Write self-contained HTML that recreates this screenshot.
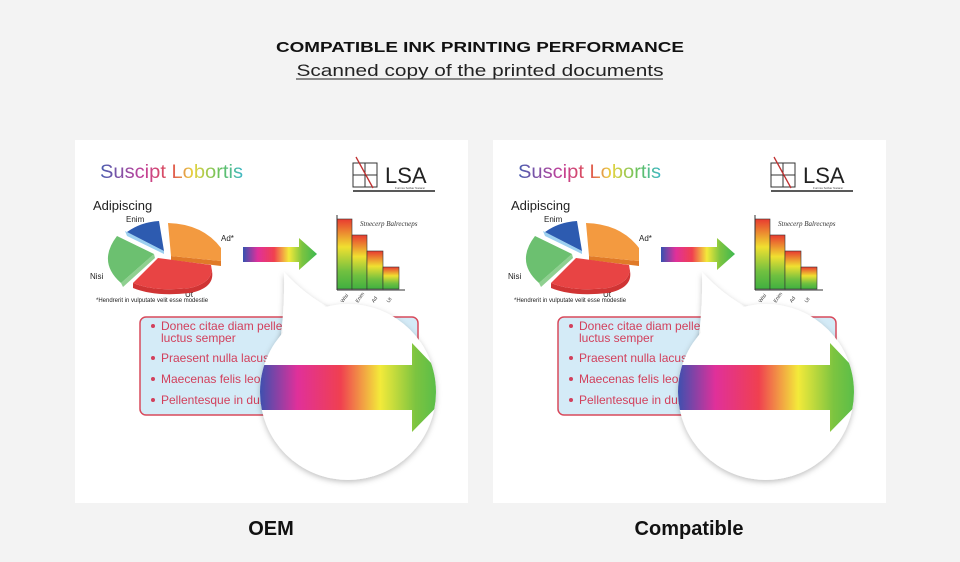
<!DOCTYPE html>
<html><head><meta charset="utf-8"><style>
html,body{margin:0;padding:0;background:#f3f3f3;}
svg{display:block;}
text{font-family:"Liberation Sans",sans-serif;}
</style></head><body>
<svg width="960" height="562" viewBox="0 0 960 562" xmlns="http://www.w3.org/2000/svg">
<defs>
<linearGradient id="title" x1="0" x2="1"><stop offset="0" stop-color="#4a5fb0"/><stop offset="0.3" stop-color="#c2409a"/><stop offset="0.5" stop-color="#e05050"/><stop offset="0.65" stop-color="#e8d440"/><stop offset="0.85" stop-color="#60c060"/><stop offset="1" stop-color="#40b8c8"/></linearGradient>
<linearGradient id="rb" x1="0" x2="1"><stop offset="0" stop-color="#3552b0"/><stop offset="0.2" stop-color="#e0309a"/><stop offset="0.42" stop-color="#f04050"/><stop offset="0.62" stop-color="#f3ea3a"/><stop offset="0.8" stop-color="#7cc440"/><stop offset="1" stop-color="#3cb850"/></linearGradient>
<linearGradient id="bar" x1="0" y1="0" x2="0" y2="1"><stop offset="0" stop-color="#e83a30"/><stop offset="0.4" stop-color="#f0e030"/><stop offset="0.75" stop-color="#70c040"/><stop offset="1" stop-color="#40b040"/></linearGradient>
<clipPath id="circ"><circle cx="273" cy="252" r="88"/></clipPath>
<filter id="sh" x="-20%" y="-20%" width="140%" height="140%"><feDropShadow dx="0" dy="2" stdDeviation="3" flood-color="#000" flood-opacity="0.25"/></filter>
<g id="panel">
<rect x="0" y="0" width="393" height="363" fill="#fff"/>
<text x="25" y="38" font-size="19" fill="url(#title)" textLength="143" lengthAdjust="spacingAndGlyphs">Suscipt Lobortis</text>
<rect x="278" y="23" width="24" height="24" fill="none" stroke="#333" stroke-width="1"/>
<line x1="278" y1="35" x2="302" y2="35" stroke="#333"/><line x1="290" y1="23" x2="290" y2="47" stroke="#333"/>
<line x1="281" y1="17" x2="298" y2="48" stroke="#c03030" stroke-width="1.3"/>
<text x="310" y="43" font-size="22" fill="#222">LSA</text>
<text x="320" y="49" font-size="3" fill="#444">Furniss Solbar Natarar</text>
<line x1="278" y1="51" x2="360" y2="51" stroke="#222" stroke-width="1.5"/>
<text x="18" y="70" font-size="13" fill="#222">Adipiscing</text>
<text x="51" y="82" font-size="8" fill="#222">Enim</text>
<text x="146" y="101" font-size="8" fill="#222">Ad*</text>
<text x="15" y="139" font-size="8" fill="#222">Nisi</text>
<text x="110" y="157" font-size="8" fill="#222">Ut</text>
<text x="21" y="162" font-size="6" fill="#222">*Hendrerit in vulputate velit esse modestie</text>
<!-- pie -->
<path d="M50 91 L52 96 L89 114 L89 111 L52 92Z" fill="#9cd0f0"/>
<path d="M52 92 Q66 82 84 81 L89 111 Z" fill="#2d5bb0"/>
<path d="M96 116 L146 121 L146 126 L96 120Z" fill="#e07a28"/>
<path d="M93 83 Q128 84 146 108 L146 121 L96 116 Z" fill="#f39a40"/>
<path d="M46 143 L79 114 L80 118 L48 147Z" fill="#8fd090"/>
<path d="M42 96 L79 114 L46 143 Q22 122 42 96 Z" fill="#6cc070"/>
<path d="M58 143 Q80 152 115 148 Q140 142 136 125 L137 131 Q140 148 115 153 Q80 157 58 148Z" fill="#d03434"/>
<path d="M83 118 L136 125 Q140 142 115 148 Q80 152 58 143 Z" fill="#e84444"/>
<path d="M168 107 H224 V98 L242 114 L224 130 V122 H168Z" fill="url(#rb)"/>
<rect x="262" y="79" width="15" height="70" fill="url(#bar)" stroke="#333" stroke-width="0.6"/>
<rect x="277" y="95" width="15" height="54" fill="url(#bar)" stroke="#333" stroke-width="0.6"/>
<rect x="292" y="111" width="16" height="38" fill="url(#bar)" stroke="#333" stroke-width="0.6"/>
<rect x="308" y="127" width="16" height="22" fill="url(#bar)" stroke="#333" stroke-width="0.6"/>
<line x1="262" y1="75" x2="262" y2="150" stroke="#333"/><line x1="262" y1="150" x2="330" y2="150" stroke="#333"/>
<text x="285" y="86" font-size="7" font-style="italic" style="font-family:'Liberation Serif',serif" fill="#333">Stnecerp Balrecneps</text>
<g font-size="5" fill="#333"><text transform="translate(268,163) rotate(-55)">Wisi</text><text transform="translate(283,163) rotate(-55)">Enim</text><text transform="translate(299,163) rotate(-55)">Ad</text><text transform="translate(314,163) rotate(-55)">Ut</text></g>
<rect x="65" y="177" width="278" height="98" rx="6" fill="#d4ebf7" stroke="#d84a5c" stroke-width="1.5"/>
<g font-size="12" fill="#d2405c"><circle cx="78" cy="186" r="2"/><text x="86" y="190">Donec citae diam pellente</text><text x="86" y="202">luctus semper</text>
<circle cx="78" cy="218" r="2"/><text x="86" y="222">Praesent nulla lacus u</text>
<circle cx="78" cy="239" r="2"/><text x="86" y="243">Maecenas felis leo p</text>
<circle cx="78" cy="260" r="2"/><text x="86" y="264">Pellentesque in dui e</text></g>
<path d="M209 132 Q210 170 204 210 L255 168 Q230 155 209 132 Z" fill="#fff" filter="url(#sh)"/>
<circle cx="273" cy="252" r="88" fill="#fff" filter="url(#sh)"/>
<path d="M209 132 Q211 170 206 205 L256 170 Q230 155 209 132 Z" fill="#fff"/>
<g clip-path="url(#circ)"><path d="M183 225 H337 V203 L380 248 L337 292 V270 H183Z" fill="url(#rb)"/></g>
</g>
</defs>
<text x="480" y="52" font-size="15" font-weight="bold" text-anchor="middle" textLength="408" lengthAdjust="spacingAndGlyphs" fill="#111">COMPATIBLE INK PRINTING PERFORMANCE</text>
<text x="480" y="76" font-size="17" text-anchor="middle" textLength="367" lengthAdjust="spacingAndGlyphs" fill="#222">Scanned copy of the printed documents</text>
<line x1="296" y1="79" x2="663" y2="79" stroke="#222" stroke-width="1"/>
<use href="#panel" x="75" y="140"/>
<use href="#panel" x="493" y="140"/>
<text x="271" y="535" font-size="20" font-weight="bold" text-anchor="middle" fill="#111">OEM</text>
<text x="689" y="535" font-size="20" font-weight="bold" text-anchor="middle" fill="#111">Compatible</text>
</svg>
</body></html>
